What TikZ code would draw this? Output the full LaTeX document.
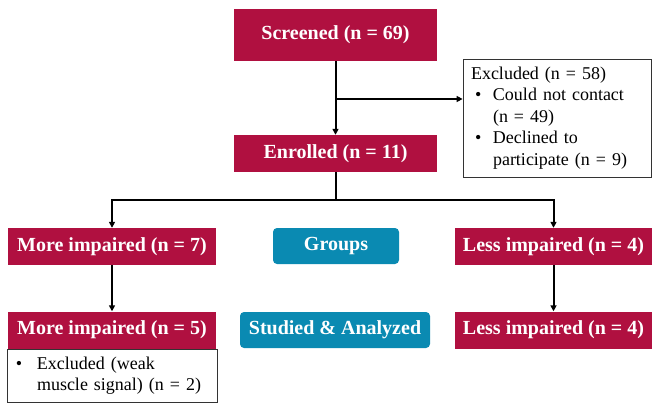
\documentclass[tikz,border=0pt]{standalone}
\usepackage{fontspec}
\setmainfont{Liberation Serif}
\usetikzlibrary{arrows.meta}
\definecolor{crimson}{RGB}{176,16,64}
\definecolor{grpteal}{RGB}{10,138,178}
\newcommand{\bul}[1]{\makebox[22pt][l]{\hspace{#1}\textbullet}}
\newcommand{\bulind}{\hspace*{22pt}}

\begin{document}
\begin{tikzpicture}[x=1pt,y=-1pt,
  redbox/.style={fill=crimson,text=white,font=\fontsize{20}{22}\selectfont\bfseries,minimum height=37pt,inner sep=2pt},
  bluebox/.style={fill=grpteal,text=white,font=\fontsize{20}{22}\selectfont\bfseries,rounded corners=4pt,minimum height=36pt,inner sep=2pt},
  notebox/.style={draw=black!80,line width=0.8pt,font=\fontsize{18}{21.6}\selectfont,align=left,inner xsep=8pt,inner ysep=3pt},
  line/.style={line width=2pt,-{Triangle[length=6pt,width=6pt]}}]
\useasboundingbox (0,0) rectangle (652,403);

% top: screened and excluded
\node[redbox,minimum width=203pt,minimum height=52pt] (screened) at (335.5,35) {Screened (n = 69)};
\node[notebox,text width=172pt,minimum height=118pt] (excl) at (557,118) {Excluded (n = 58)\\
\bul{4pt}Could not contact\\
\bulind(n = 49)\\
\bul{4pt}Declined to\\
\bulind participate (n = 9)};
\node[redbox,minimum width=203pt] (enrolled) at (335.5,153.5) {Enrolled (n = 11)};

% groups
\node[redbox,minimum width=208pt] (more7) at (112,246.5) {More impaired (n = 7)};
\node[bluebox,minimum width=126pt] (groups) at (336,246) {Groups};
\node[redbox,minimum width=197pt] (less4) at (553.5,246.5) {Less impaired (n = 4)};

% studied and analyzed
\node[redbox,minimum width=208pt] (more5) at (112,330) {More impaired (n = 5)};
\node[bluebox,minimum width=190pt] (studied) at (335,330) {Studied \& Analyzed};
\node[redbox,minimum width=197pt] (less4b) at (553.5,330) {Less impaired (n = 4)};
\node[notebox,text width=194pt,minimum height=53pt,anchor=north] (weak) at (more5.south) {\bul{1pt}Excluded (weak\\
\bulind muscle signal) (n = 2)};

% arrows
\coordinate (split1) at (screened.south |- 0,99);
\coordinate (split2) at (enrolled.south |- 0,200);
\draw[line] (screened) -- (enrolled);
\draw[line] (split1) -- (split1 -| excl.west);
\draw[line width=2pt] (enrolled) -- (split2);
\draw[line] (split2) -| (more7.north);
\draw[line] (split2) -| (less4.north);
\draw[line] (more7) -- (more5);
\draw[line] (less4) -- (less4b);
\end{tikzpicture}
\end{document}
